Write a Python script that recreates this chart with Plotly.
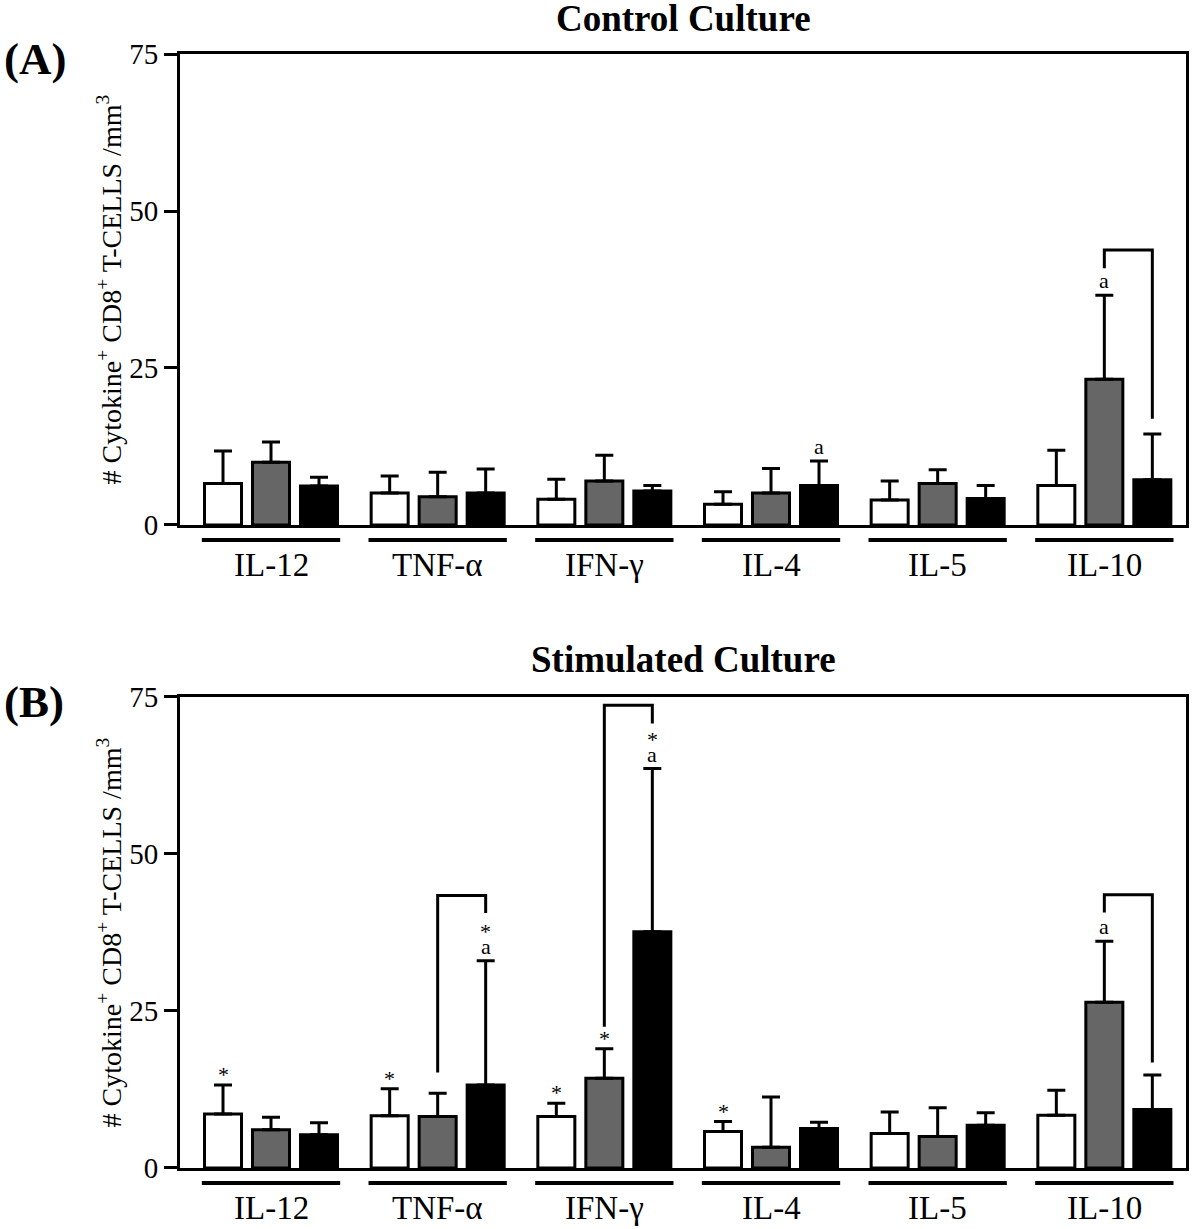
import plotly.graph_objects as go

# ---------------- data ----------------
categories = ["IL-12", "TNF-α", "IFN-γ", "IL-4", "IL-5", "IL-10"]
group_names = ["Group 1", "Group 2", "Group 3"]
group_colors = ["white", "#666666", "black"]

# Panel A: Control culture
ctrl_white = [6.6, 5.1, 4.1, 3.3, 4.0, 6.3]
ctrl_white_err = [5.2, 2.7, 3.2, 2.0, 3.0, 5.6]
ctrl_gray = [10.0, 4.5, 7.0, 5.1, 6.6, 23.2]
ctrl_gray_err = [3.2, 3.9, 4.1, 3.9, 2.2, 13.4]
ctrl_black = [6.2, 5.1, 5.4, 6.3, 4.2, 7.2]
ctrl_black_err = [1.4, 3.8, 0.9, 3.9, 2.1, 7.3]

# Panel B: Stimulated culture
stim_white = [8.6, 8.3, 8.2, 5.8, 5.5, 8.4]
stim_white_err = [4.6, 4.3, 2.1, 1.6, 3.4, 4.0]
stim_gray = [6.1, 8.2, 14.3, 3.3, 5.0, 26.4]
stim_gray_err = [2.0, 3.7, 4.7, 8.0, 4.6, 9.7]
stim_black = [5.3, 13.2, 37.6, 6.3, 6.8, 9.3]
stim_black_err = [1.9, 19.8, 26.0, 1.0, 2.0, 5.5]

y_ticks = [0, 25, 50, 75]

# significance labels: (category index, series index, text)
marks_A = [(3, 2, "a"), (5, 1, "a")]
marks_B = [(0, 0, "*"), (1, 0, "*"), (1, 2, "*a"), (2, 0, "*"),
           (2, 1, "*"), (2, 2, "*a"), (3, 0, "*"), (5, 1, "a")]

# brackets: (category index, left-leg bottom, top, right-leg bottom)
brackets_A = [(5, 40.9, 43.8, 16.9)]
brackets_B = [(1, 15.2, 43.4, 40.6), (2, 22.5, 73.7, 70.8), (5, 40.7, 43.5, 16.8)]

# ---------------- layout constants ----------------
FONT = "Liberation Serif, Times New Roman, serif"
X_RANGE = [-0.546, 5.49]
BARGAP = 0.136
SLOT = (1 - BARGAP) / 3.0
PLOT_W = 1006.0   # px width of plotting area
PLOT_H = 471.0    # px height of each panel

fig = go.Figure()

panels = [
    ("x", "y", [ctrl_white, ctrl_gray, ctrl_black],
     [ctrl_white_err, ctrl_gray_err, ctrl_black_err], marks_A, brackets_A),
    ("x2", "y2", [stim_white, stim_gray, stim_black],
     [stim_white_err, stim_gray_err, stim_black_err], marks_B, brackets_B),
]

xs = list(range(len(categories)))

for xa, ya, vals, errs, marks, brackets in panels:
    for k in range(3):
        fig.add_trace(go.Bar(
            x=xs, y=vals[k], name=group_names[k], xaxis=xa, yaxis=ya,
            marker=dict(color=group_colors[k], line=dict(color="black", width=3)),
            error_y=dict(type="data", symmetric=False, array=errs[k],
                         arrayminus=[0] * len(errs[k]),
                         color="black", thickness=3, width=9),
            showlegend=False, hoverinfo="skip",
        ))
    # significance labels
    for ci, si, txt in marks:
        top = vals[si][ci] + errs[si][ci]
        xpos = ci + (si - 1) * SLOT
        if "a" in txt:
            fig.add_annotation(x=xpos, y=top, xref=xa, yref=ya, text="a",
                               showarrow=False, yanchor="bottom", yshift=0,
                               font=dict(family=FONT, size=22, color="black"))
        if "*" in txt:
            shift = 15 if "a" in txt else -4
            fig.add_annotation(x=xpos, y=top, xref=xa, yref=ya, text="*",
                               showarrow=False, yanchor="bottom", yshift=shift,
                               font=dict(family=FONT, size=22, color="black"))
    # brackets
    for ci, yl, yt, yr in brackets:
        xl = ci + 0 * SLOT
        xr = ci + 1 * SLOT
        fig.add_shape(
            type="path", xref=xa, yref=ya,
            path=f"M {xl},{yl} L {xl},{yt} L {xr},{yt} L {xr},{yr}",
            line=dict(color="black", width=3),
        )
    # group underlines (below the axis) and category labels
    ydom = ya + " domain"
    xdom = xa + " domain"
    for ci in xs:
        f0 = (ci - 0.415 - X_RANGE[0]) / (X_RANGE[1] - X_RANGE[0])
        f1 = (ci + 0.415 - X_RANGE[0]) / (X_RANGE[1] - X_RANGE[0])
        fig.add_shape(type="line", xref=xdom, yref=ydom,
                      x0=f0, x1=f1, y0=-0.032, y1=-0.032,
                      line=dict(color="black", width=4))
        fig.add_annotation(x=ci, y=-60 / PLOT_H, xref=xa, yref=ydom,
                           text=categories[ci], showarrow=False,
                           xanchor="center", yanchor="bottom",
                           font=dict(family=FONT, size=33, color="black"))

axis_common_x = dict(
    range=X_RANGE, showticklabels=False,
    ticks="", showline=True, linecolor="black", linewidth=3, mirror=True,
    showgrid=False, zeroline=False,
)
axis_common_y = dict(
    range=[0, 75], tickmode="array", tickvals=y_ticks,
    ticks="outside", ticklen=13, tickwidth=3, tickcolor="black",
    showline=True, linecolor="black", linewidth=3, mirror=True,
    showgrid=False, zeroline=False,
    tickfont=dict(family=FONT, size=29, color="black"),
)

fig.update_layout(
    width=1200, height=1229,
    margin=dict(l=180, r=14, t=40, b=40),
    paper_bgcolor="white", plot_bgcolor="white",
    barmode="group", bargap=BARGAP, bargroupgap=0.229,
    xaxis=dict(domain=[0, 1], anchor="y", **axis_common_x),
    yaxis=dict(domain=[0.5779, 0.9878], anchor="x", **axis_common_y),
    xaxis2=dict(domain=[0, 1], anchor="y2", **axis_common_x),
    yaxis2=dict(domain=[0.01828, 0.4282], anchor="x2", **axis_common_y),
    font=dict(family=FONT, color="black"),
)

ytitle = "# Cytokine<sup>+</sup> CD8<sup>+</sup> T-CELLS /mm<sup>3</sup>"
for ya, title, letter, tpos, lpos in [("y", "Control Culture", "(A)", 1.075, 0.99),
                                       ("y2", "Stimulated Culture", "(B)", 1.079, 0.99)]:
    fig.add_annotation(x=0.5, y=tpos, xref="paper", yref=ya + " domain",
                       text=f"<b>{title}</b>", showarrow=False,
                       xanchor="center", yanchor="middle",
                       font=dict(family=FONT, size=37, color="black"))
    fig.add_annotation(x=-178 / PLOT_W, y=lpos, xref="paper", yref=ya + " domain",
                       text=f"<b>{letter}</b>", showarrow=False,
                       xanchor="left", yanchor="middle",
                       font=dict(family=FONT, size=45, color="black"))
    fig.add_annotation(x=-70 / PLOT_W, y=0.5, xref="paper", yref=ya + " domain",
                       text=ytitle, showarrow=False, textangle=-90,
                       xanchor="center", yanchor="middle",
                       font=dict(family=FONT, size=28, color="black"))

# page = exactly the figure: no body margin, no overflow growing the page
post = ("document.documentElement.style.margin='0';"
        "document.body.style.margin='0';"
        "document.documentElement.style.overflow='hidden';"
        "document.body.style.overflow='hidden';"
        "var d=document.getElementById('{plot_id}');"
        "d.style.overflow='hidden';")
fig.write_html("out.html", config={"displayModeBar": False}, post_script=post)
